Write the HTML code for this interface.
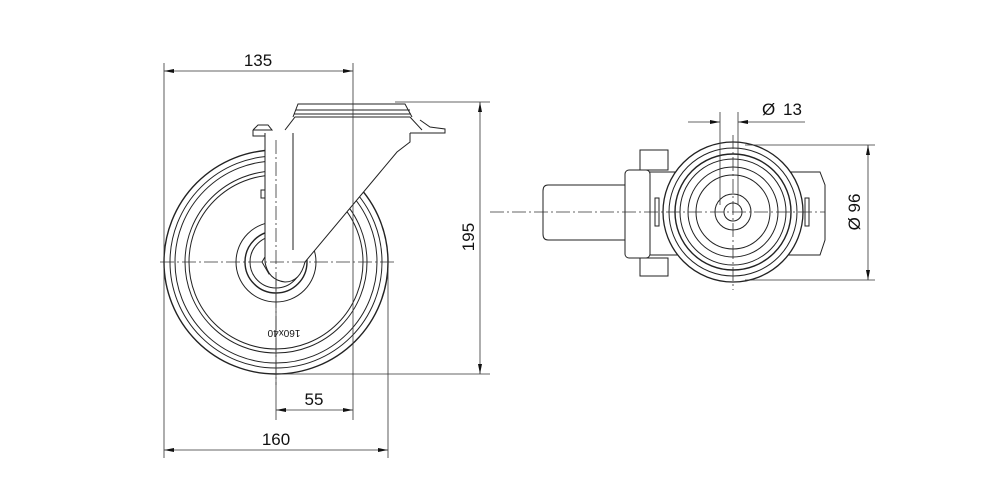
<!DOCTYPE html>
<html><head><meta charset="utf-8"><style>
html,body{margin:0;padding:0;background:#fff;}
svg{display:block;}
text{font-family:"Liberation Sans",sans-serif;fill:#111;}
</style></head><body>
<svg width="1000" height="495" viewBox="0 0 1000 495" xmlns="http://www.w3.org/2000/svg">
<defs>
<marker id="a" viewBox="0 0 10 4" refX="10" refY="2" markerWidth="10" markerHeight="4" orient="auto-start-reverse" markerUnits="userSpaceOnUse"><path d="M0,0 L10,2 L0,4z" fill="#111"/></marker>
</defs>
<g fill="none" stroke="#222" stroke-width="1">
<!-- wheel side view -->
<circle cx="276" cy="262" r="112" stroke-width="1.4"/>
<circle cx="276" cy="262" r="106"/>
<circle cx="276" cy="262" r="101"/>
<circle cx="276" cy="262" r="91"/>
<circle cx="276" cy="262" r="87"/>
<circle cx="276" cy="262" r="40"/>
<circle cx="276" cy="262" r="31" stroke-width="1.4"/>
<circle cx="276" cy="262" r="26"/>
<polygon points="290,262 283,274 269,274 262,262 269,250 283,250" fill="#fff"/>
<!-- fork -->
<path d="M265,133 L265,262 Q268,280 285,282 Q300,282 305,262 L397,152 L410,142 L410,133" fill="#fff"/>
<line x1="293" y1="133" x2="293" y2="250"/>
<line x1="305" y1="262" x2="305" y2="262"/>
<path d="M253,130 L258,125 L268,125 L272,130 L253,130 M253,130 L253,136 L265,136"/>
<path d="M410,133 L445,133 L445,129 L430,127 L420,120"/>
<path d="M285,130 L295,117 L410,117 L422,130"/>
<path d="M293,117 L298,104 L405,104 L412,117"/>
<line x1="296" y1="110" x2="410" y2="110"/>
<line x1="294" y1="114" x2="411" y2="114"/>
<rect x="261" y="190" width="4" height="8"/>
<!-- top view -->
<path d="M548,185 L640,185 L640,240 L548,240 Q543,240 543,234 L543,191 Q543,185 548,185z" fill="#fff"/>
<path d="M648,172 L820,172 L825,185 L825,240 L820,255 L648,255z" fill="#fff"/>
<rect x="625" y="170" width="25" height="88" rx="4" fill="#fff"/>
<rect x="640" y="150" width="28" height="20" fill="#fff"/>
<rect x="640" y="258" width="28" height="18" fill="#fff"/>
<circle cx="733" cy="212" r="70" fill="#fff" stroke-width="1.3"/>
<circle cx="733" cy="212" r="64"/>
<circle cx="733" cy="212" r="58" stroke-width="1.4"/>
<circle cx="733" cy="212" r="53"/>
<circle cx="733" cy="212" r="45"/>
<circle cx="733" cy="212" r="37"/>
<circle cx="733" cy="212" r="18"/>
<circle cx="733" cy="212" r="9"/>
<rect x="655" y="198" width="4" height="28"/>
<rect x="805" y="198" width="4" height="28"/>
</g>
<!-- centre lines -->
<g stroke="#333" stroke-width="0.8" stroke-dasharray="14,3,2,3" fill="none">
<line x1="160" y1="262" x2="395" y2="262"/>
<line x1="490" y1="212" x2="825" y2="212"/>
<line x1="733" y1="135" x2="733" y2="290"/>
<line x1="276" y1="140" x2="276" y2="385"/>
</g>
<!-- dimension lines -->
<g stroke="#333" stroke-width="0.8" fill="none">
<line x1="164" y1="63" x2="164" y2="458"/>
<line x1="353" y1="63" x2="353" y2="420"/>
<line x1="276" y1="280" x2="276" y2="420"/>
<line x1="388" y1="262" x2="388" y2="458"/>
<line x1="164" y1="71" x2="353" y2="71" marker-end="url(#a)" marker-start="url(#a)"/>
<line x1="395" y1="102" x2="490" y2="102"/>
<line x1="276" y1="374" x2="490" y2="374"/>
<line x1="480" y1="102" x2="480" y2="374" marker-end="url(#a)" marker-start="url(#a)"/>
<line x1="276" y1="410" x2="353" y2="410" marker-end="url(#a)" marker-start="url(#a)"/>
<line x1="164" y1="450" x2="388" y2="450" marker-end="url(#a)" marker-start="url(#a)"/>
<line x1="720" y1="112" x2="720" y2="205"/>
<line x1="738" y1="112" x2="738" y2="205"/>
<line x1="688" y1="122" x2="720" y2="122" marker-end="url(#a)"/>
<line x1="805" y1="122" x2="738" y2="122" marker-end="url(#a)"/>
<line x1="745" y1="145" x2="875" y2="145"/>
<line x1="745" y1="280" x2="875" y2="280"/>
<line x1="868" y1="145" x2="868" y2="280" marker-end="url(#a)" marker-start="url(#a)"/>
</g>
<g font-size="17">
<text x="258" y="66" text-anchor="middle">135</text>
<text x="314" y="405" text-anchor="middle">55</text>
<text x="276" y="445" text-anchor="middle">160</text>
<text x="762" y="115">Ø</text><text x="783" y="115">13</text>
<text transform="translate(474,237) rotate(-90)" text-anchor="middle">195</text>
<text transform="translate(860,212) rotate(-90)" text-anchor="middle">Ø 96</text>
<text transform="translate(284,330) rotate(180)" text-anchor="middle" font-size="10">160x40</text>
</g>
</svg>
</body></html>
